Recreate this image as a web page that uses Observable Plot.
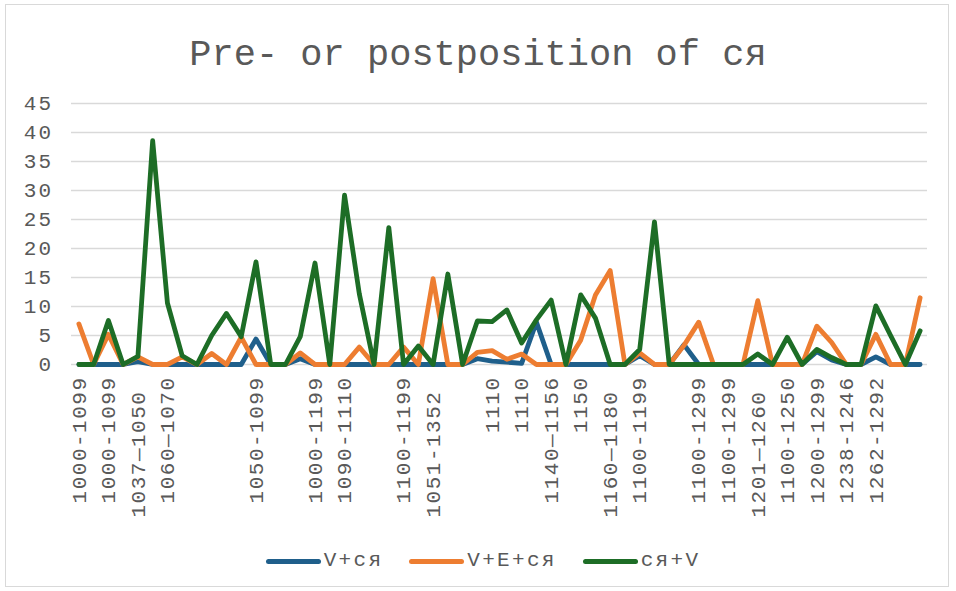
<!DOCTYPE html>
<html>
<head>
<meta charset="utf-8">
<script src="https://cdn.jsdelivr.net/npm/d3@7"></script>
<script src="https://cdn.jsdelivr.net/npm/@observablehq/plot@0.6"></script>
<style>
  body { margin: 0; background: #fff; }
  #wrap { position: relative; width: 956px; height: 591px; overflow: hidden; font-family: "Liberation Mono", monospace; color: #595959; }
  #frame { position: absolute; left: 5px; top: 4px; width: 944px; height: 583px; border: 1px solid #d9d9d9; box-sizing: border-box; }
  #title { position: absolute; left: 0; top: 34px; width: 956px; text-align: center; font-size: 37px; line-height: 42px; white-space: pre; }
  #chart { position: absolute; left: 0; top: 90px; }
  #chart svg text { letter-spacing: 2.3px; }
  #chart svg g[aria-label="x-axis tick label"] text { letter-spacing: 1.5px; }
  #legend { position: absolute; left: 5px; top: 548px; width: 956px; display: flex; justify-content: center; align-items: center; font-size: 21px; letter-spacing: 2.3px; line-height: 26px; }
  .item { display: flex; align-items: center; margin: 0 13px; }
  .sw { display: inline-block; width: 55px; height: 5px; border-radius: 3px; margin-right: 3px; }
</style>
</head>
<body>
<div id="wrap">
  <div id="frame"></div>
  <div id="title"></div>
  <div id="chart"></div>
  <div id="legend"></div>
</div>
<script>
const title = "Pre- or postposition of ся";
const seriesNames = ["V+ся", "V+E+ся", "ся+V"];
const seriesColors = ["#1F5F8B", "#ED7D31", "#1D6D26"];

// labels shown on the axis (every second category)
const tickLabels = ["1000-1099","1000-1099","1037—1050\u00a0","1060—1070","","","1050-1099","","1000-1199","1090-1110","","1100-1199","1051-1352\u00a0","","1110","1110","1140—1156","1150","1160—1180\u00a0","1100-1199","","1100-1299","1100-1299","1201—1260\u00a0","1100-1250","1200-1299","1238-1246","1262-1292",""];

const vSja = [0,0,0,0,0.5,0,0,0,0,0,0,0,4.4,0,0,1,0,0,0,0,0,0,0,0,0,0,0,1,0.6,0.4,0.2,7.3,0,0,0,0,0,0,1.5,0,0,3.4,0,0,0,0,0,0,0,0,2.2,0.8,0,0,1.3,0,0,0];
const vESja = [7,0,5.2,0,1.3,0,0,1.3,0,1.9,0,4.7,0,0,0,2,0,0,0,3,0,0,3,0,14.8,0,0,2.1,2.4,0.9,1.8,0,0,0,4.2,12,16.2,0,2,0,0,3.3,7.3,0,0,0,11,0,0,0,6.6,3.8,0,0,5.2,0,0,11.5];
const sjaV = [0,0,7.6,0,1.4,38.6,10.6,1.5,0,5,8.8,4.8,17.7,0,0,4.8,17.5,0,29.2,12.2,0,23.6,0,3.2,0,15.6,0,7.5,7.4,9.4,3.7,7.7,11.1,0,12,8,0,0,2.6,24.6,0,0,0,0,0,0,1.8,0,4.7,0,2.6,1.2,0,0,10.1,5,0,5.8];
const yTicks = [0,5,10,15,20,25,30,35,40,45];

const seriesValues = [vSja, vESja, sjaV];
const n = vSja.length;
const rows = [];
seriesValues.forEach((vals, s) => vals.forEach((v, i) => rows.push({i, v, s: seriesNames[s]})));

document.getElementById("title").textContent = title;

const chart = Plot.plot({
  width: 956,
  height: 440,
  marginLeft: 71,
  marginRight: 29,
  marginTop: 13,
  marginBottom: 166,
  style: { fontFamily: "Liberation Mono, monospace", fontSize: "21px", color: "#595959", background: "transparent", overflow: "visible" },
  x: { type: "point", domain: d3.range(n), padding: 0.5, label: null },
  y: { domain: [0, 45], label: null },
  color: { domain: seriesNames, range: seriesColors },
  marks: [
    Plot.gridY(yTicks, { stroke: "#d9d9d9", strokeOpacity: 1, strokeWidth: 1.3 }),
    Plot.axisY(yTicks, { tickSize: 0, tickPadding: 18, fontSize: 21, fill: "#595959", label: null }),
    Plot.axisX(d3.range(0, n, 2), { tickFormat: i => tickLabels[i / 2], tickRotate: -90, tickSize: 0, tickPadding: 12, fontSize: 21, fill: "#595959", label: null }),
    Plot.line(rows, { x: "i", y: "v", z: "s", stroke: "s", strokeWidth: 4.8, strokeLinejoin: "round", strokeLinecap: "round" })
  ]
});
document.getElementById("chart").appendChild(chart);

const legend = document.getElementById("legend");
seriesNames.forEach((name, k) => {
  const item = document.createElement("div");
  item.className = "item";
  const sw = document.createElement("span");
  sw.className = "sw";
  sw.style.background = seriesColors[k];
  const t = document.createElement("span");
  t.textContent = name;
  item.appendChild(sw);
  item.appendChild(t);
  legend.appendChild(item);
});
</script>
</body>
</html>
